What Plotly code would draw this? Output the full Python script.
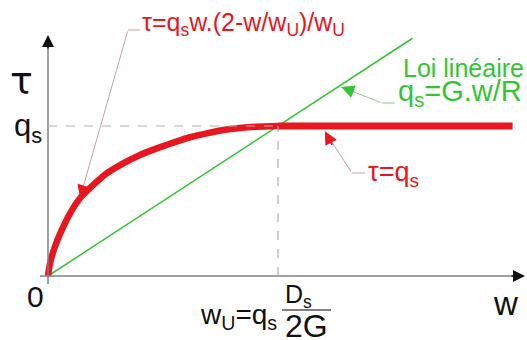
import plotly.graph_objects as go

# ---- data (normalised: w / w_U , tau / q_s) ----
curve_w = [0, 0.009, 0.03, 0.06, 0.096, 0.139, 0.197, 0.255, 0.327, 0.40, 0.473, 0.545, 0.617, 0.69, 0.762, 0.835, 0.907, 1.0]
curve_tau = [0, 0.085, 0.195, 0.307, 0.418, 0.518, 0.607, 0.684, 0.751, 0.807, 0.851, 0.889, 0.925, 0.951, 0.973, 0.987, 0.995, 1.0]
plateau_w = [1.0, 2.02]
plateau_tau = [1.0, 1.0]
linear_w = [0, 1.585]
linear_tau = [0, 1.585]

W_U = 1.0
Q_S = 1.0

# pixel <-> data helpers for placing labels
PX0, PY0, SX, SY = 48, 276, 230, 150
def X(px):
    return (px - PX0) / SX
def Y(py):
    return (PY0 - py) / SY

RED = "#e8161e"
GREEN = "#33c633"
FONT = "Liberation Sans, Arial, sans-serif"

fig = go.Figure()
fig.add_trace(go.Scatter(x=linear_w, y=linear_tau, mode="lines",
                         line=dict(color=GREEN, width=1.5), hoverinfo="skip"))
fig.add_trace(go.Scatter(x=curve_w, y=curve_tau, mode="lines",
                         line=dict(color=RED, width=6.5, shape="spline", smoothing=0.8), hoverinfo="skip"))
fig.add_trace(go.Scatter(x=plateau_w, y=plateau_tau, mode="lines",
                         line=dict(color=RED, width=7), hoverinfo="skip"))

shapes = []
# axes
shapes.append(dict(type="line", x0=X(48), y0=Y(284), x1=X(48), y1=Y(45),
                   line=dict(color="#808080", width=1.5)))
shapes.append(dict(type="line", x0=X(40), y0=0, x1=X(515), y1=0,
                   line=dict(color="#808080", width=1.5)))
# dashed guides
shapes.append(dict(type="line", x0=0, y0=Q_S, x1=W_U, y1=Q_S,
                   line=dict(color="#b0b0b0", width=1.2, dash="dash")))
shapes.append(dict(type="line", x0=W_U, y0=0, x1=W_U, y1=Q_S,
                   line=dict(color="#b0b0b0", width=1.2, dash="dash")))
# leader horizontals
shapes.append(dict(type="line", x0=X(128), y0=Y(30), x1=X(140), y1=Y(30),
                   line=dict(color="#c9a0a0", width=1)))
shapes.append(dict(type="line", x0=X(382), y0=Y(103), x1=X(395), y1=Y(103),
                   line=dict(color="#9cbf9c", width=1)))
shapes.append(dict(type="line", x0=X(352), y0=Y(173), x1=X(365), y1=Y(173),
                   line=dict(color="#c9a0a0", width=1)))
# fraction bar
shapes.append(dict(type="line", x0=X(282), y0=Y(310), x1=X(331), y1=Y(310),
                   line=dict(color="#555555", width=1.5)))

ann = []
def arrow(tipx, tipy, tailx, taily, color, width, head, size=1):
    ann.append(dict(x=tipx, y=tipy, ax=tailx, ay=taily, xref="x", yref="y",
                    axref="x", ayref="y", text="", showarrow=True,
                    arrowhead=head, arrowwidth=width, arrowcolor=color, arrowsize=size))

# axis arrowheads
arrow(X(48), Y(35), X(48), Y(50), "#111111", 1.5, 2, 1.6)
arrow(X(525), 0, X(510), 0, "#111111", 1.5, 2, 1.6)

# leader lines + heads
t1 = (0.139, 0.52)
arrow(t1[0], t1[1], X(128), Y(30), "#c9a0a0", 1, 0)
arrow(t1[0], t1[1], t1[0] + 0.018, t1[1] + 0.09, RED, 2, 2, 1.3)
t2 = (1.275, 1.26)
arrow(t2[0], t2[1], X(382), Y(103), "#9cbf9c", 1, 0)
arrow(t2[0], t2[1], t2[0] + 0.06, t2[1] - 0.035, GREEN, 2, 2, 1.3)
t3 = (1.204, 0.965)
arrow(t3[0], t3[1], X(352), Y(173), "#c9a0a0", 1, 0)
arrow(t3[0], t3[1], t3[0] + 0.035, t3[1] - 0.1, RED, 2, 2, 1.3)

def label(px, py, text, size, color="#111111", xanchor="center", family=FONT, yanchor="middle"):
    ann.append(dict(x=X(px), y=Y(py), xref="x", yref="y", text=text, showarrow=False,
                    xanchor=xanchor, yanchor=yanchor,
                    font=dict(family=family, size=size, color=color)))

label(140, 24, "τ=q<sub>s</sub>w.(2-w/w<sub>U</sub>)/w<sub>U</sub>", 25, RED, "left")
label(401, 68, "Loi linéaire", 25, GREEN, "left")
label(396, 93, "q<sub>s</sub>=G.w/R", 29, GREEN, "left")
label(366, 174, "τ=q<sub>s</sub>", 27, RED, "left")
label(21, 81, "τ", 38, "#111111", "center", "DejaVu Sans, Liberation Sans, sans-serif")
label(12, 128, "q<sub>s</sub>", 31, "#111111", "left")
label(35, 296, "0", 30)
label(505, 303, "w", 33)
label(279, 316, "w<sub>U</sub>=q<sub>s</sub>", 28, "#111111", "right")
label(298, 296, "D<sub>s</sub>", 25)
label(306, 326, "2G", 32)

fig.update_layout(
    width=527, height=340, margin=dict(l=0, r=0, t=0, b=0),
    paper_bgcolor="white", plot_bgcolor="white", showlegend=False,
    xaxis=dict(range=[X(0), X(527)], visible=False, fixedrange=True),
    yaxis=dict(range=[Y(340), Y(0)], visible=False, fixedrange=True),
    shapes=shapes, annotations=ann,
)
fig.write_html("out.html", config={"responsive": False, "displayModeBar": False},
               post_script="document.body.style.margin='0';document.body.style.overflow='hidden';")
